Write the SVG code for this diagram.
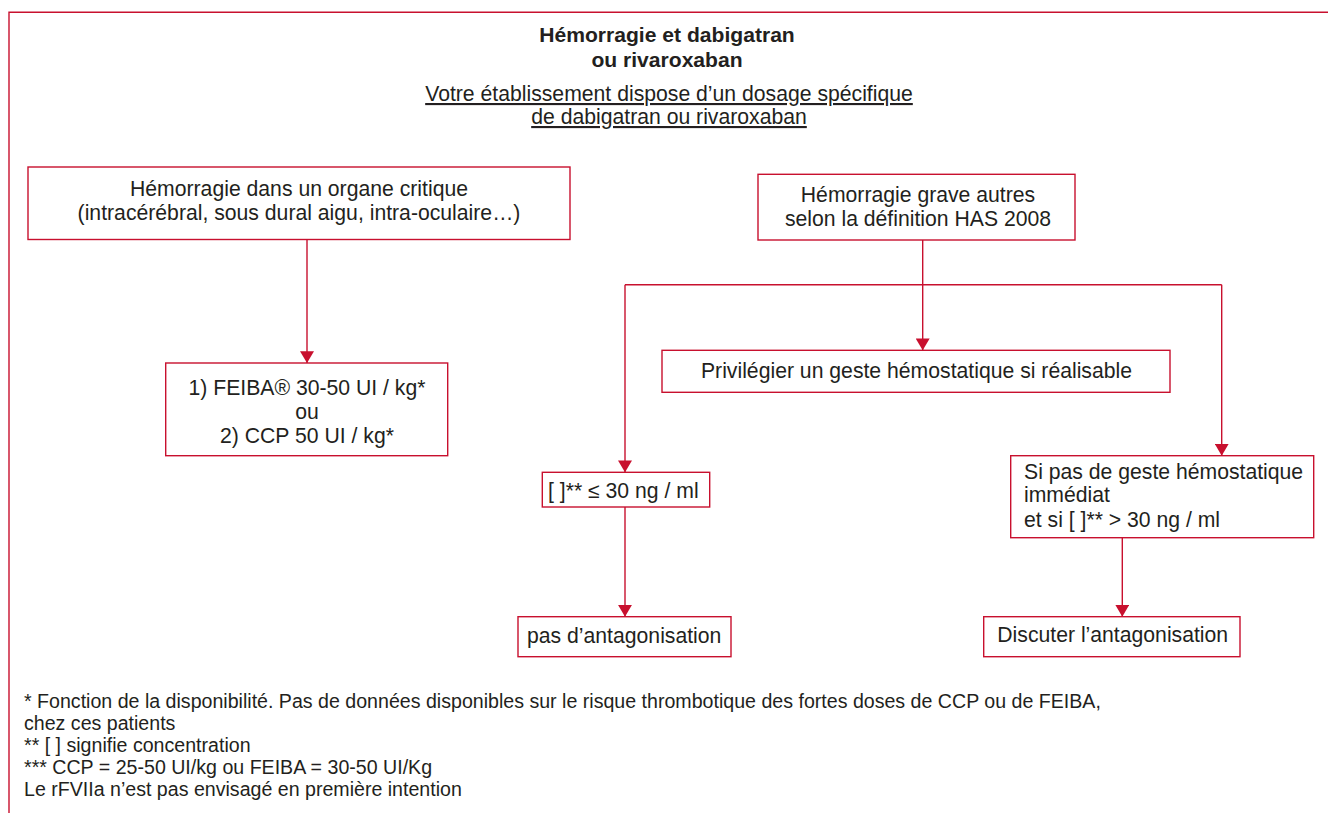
<svg xmlns="http://www.w3.org/2000/svg" width="1328" height="813" viewBox="0 0 1328 813">
<style>
.t{font-family:"Liberation Sans",Arial,sans-serif;font-size:21.2px;fill:#231f20}
.c{text-anchor:middle}
.b{font-weight:bold;font-size:21.1px}
.f{font-size:19.6px}
.box{fill:#fff;stroke:#c8102e;stroke-width:1.4}
.ln{fill:none;stroke:#c8102e;stroke-width:1.4}
</style>
<defs>
<marker id="ah" markerUnits="userSpaceOnUse" markerWidth="14" markerHeight="12" refX="6.5" refY="11" orient="0" viewBox="0 0 13 11">
<polygon points="0,0 13,0 6.5,11" fill="#c8102e"/>
</marker>
</defs>
<rect width="1328" height="813" fill="#fff"/>
<path class="ln" d="M9,813 V12.3 H1328"/>
<g id="title">
<text class="t b c" x="667" y="42">Hémorragie et dabigatran</text>
<text class="t b c" x="667" y="67">ou rivaroxaban</text>
<text class="t c" x="669" y="101" text-decoration="underline">Votre établissement dispose d’un dosage spécifique</text>
<text class="t c" x="669" y="124" text-decoration="underline">de dabigatran ou rivaroxaban</text>
</g>
<g id="connectors">
<path class="ln" d="M307,240 V363" marker-end="url(#ah)"/>
<path class="ln" d="M922.7,240 V350.3" marker-end="url(#ah)"/>
<path class="ln" d="M625,284.7 H1221.7"/>
<path class="ln" d="M625,284.7 V472.3" marker-end="url(#ah)"/>
<path class="ln" d="M1221.7,284.7 V455.7" marker-end="url(#ah)"/>
<path class="ln" d="M625,507 V616.7" marker-end="url(#ah)"/>
<path class="ln" d="M1122.3,537.7 V616.7" marker-end="url(#ah)"/>
</g>
<g id="n1">
<rect class="box" x="28" y="167" width="542" height="72.5"/>
<text class="t c" x="299" y="196">Hémorragie dans un organe critique</text>
<text class="t c" x="299" y="220">(intracérébral, sous dural aigu, intra-oculaire…)</text>
</g>
<g id="n2">
<rect class="box" x="758" y="174.3" width="317" height="65.7"/>
<text class="t c" x="918" y="202.3">Hémorragie grave autres</text>
<text class="t c" x="918" y="226">selon la définition HAS 2008</text>
</g>
<g id="n3">
<rect class="box" x="165.7" y="363" width="282" height="92.7"/>
<text class="t c" x="307" y="395">1) FEIBA® 30-50 UI / kg*</text>
<text class="t c" x="307" y="418.5">ou</text>
<text class="t c" x="307" y="442.7">2) CCP 50 UI / kg*</text>
</g>
<g id="n4">
<rect class="box" x="662" y="350.3" width="508" height="42"/>
<text class="t c" x="916.5" y="378">Privilégier un geste hémostatique si réalisable</text>
</g>
<g id="n5">
<rect class="box" x="542.3" y="472.3" width="167.4" height="34.7"/>
<text class="t" x="548" y="498.3">[ ]** ≤ 30 ng / ml</text>
</g>
<g id="n6">
<rect class="box" x="1010.7" y="455.7" width="303" height="82"/>
<text class="t" x="1024" y="479">Si pas de geste hémostatique</text>
<text class="t" x="1024" y="502">immédiat</text>
<text class="t" x="1024" y="526.5">et si [ ]** &gt; 30 ng / ml</text>
</g>
<g id="n7">
<rect class="box" x="518" y="616.7" width="213" height="40"/>
<text class="t" x="527" y="642.7">pas d’antagonisation</text>
</g>
<g id="n8">
<rect class="box" x="983.7" y="616.7" width="256.3" height="40"/>
<text class="t" x="997.3" y="641.7">Discuter l’antagonisation</text>
</g>
<g id="notes">
<text class="t f" x="24" y="708">* Fonction de la disponibilité. Pas de données disponibles sur le risque thrombotique des fortes doses de CCP ou de FEIBA,</text>
<text class="t f" x="24" y="730">chez ces patients</text>
<text class="t f" x="24" y="752">** [ ] signifie concentration</text>
<text class="t f" x="24" y="774">*** CCP = 25-50 UI/kg ou FEIBA = 30-50 UI/Kg</text>
<text class="t f" x="24" y="796">Le rFVIIa n’est pas envisagé en première intention</text>
</g>
</svg>
